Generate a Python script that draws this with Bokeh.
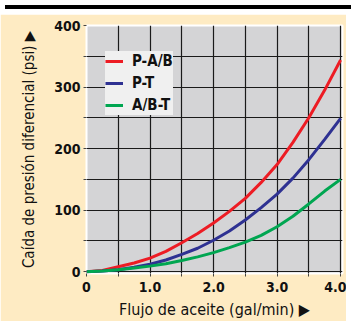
from bokeh.plotting import figure
from bokeh.models import FixedTicker, Range1d, Legend, LegendItem, Div
from bokeh.layouts import column
from bokeh.embed import file_html
from bokeh.resources import INLINE

flow = [0.0, 0.25, 0.5, 0.75, 1.0, 1.25, 1.5, 1.75, 2.0, 2.25, 2.5, 2.75, 3.0, 3.25, 3.5, 3.75, 4.0]
p_ab = [0, 2, 8, 14, 22, 33, 47, 62, 79, 98, 119, 145, 174, 210, 250, 295, 344]
p_t = [0, 1, 3, 7, 12, 19, 28, 38, 51, 66, 84, 104, 126, 152, 182, 215, 249]
ab_t = [0, 1, 3, 6, 9, 13, 18, 24, 31, 39, 48, 59, 73, 90, 110, 131, 150]
series_names = ["P-A/B", "P-T", "A/B-T"]
series_colors = ["#ED1C24", "#2E3192", "#00A651"]

x_major = [0, 1, 2, 3, 4]
x_minor = [0.5, 1.5, 2.5, 3.5]
y_major = [0, 100, 200, 300, 400]
y_minor = [50, 150, 250, 350]

FONT = "'Liberation Sans Narrow', 'DejaVu Sans Condensed', sans-serif"
BG = "#FEEBC3"

p = figure(width=346, height=307, output_backend="svg", toolbar_location=None,
           x_range=Range1d(0, 4.03), y_range=Range1d(-3, 400),
           min_border_left=86, min_border_right=4, min_border_top=11, min_border_bottom=41)
p.background_fill_color = "#D4D4D6"
p.border_fill_color = BG
p.outline_line_color = "white"
p.outline_line_width = 2

p.xaxis.ticker = FixedTicker(ticks=x_major, minor_ticks=x_minor)
p.yaxis.ticker = FixedTicker(ticks=y_major, minor_ticks=y_minor)
p.xaxis.major_label_overrides = {0: "0", 1: "1.0", 2: "2.0", 3: "3.0", 4: "4.0"}

for ax in (p.xaxis, p.yaxis):
    ax.axis_line_color = None
    ax.major_tick_in = 0
    ax.major_tick_out = 3
    ax.minor_tick_in = 0
    ax.minor_tick_out = 3
    ax.major_tick_line_color = "#444"
    ax.minor_tick_line_color = "#444"
    ax.major_label_text_font = FONT
    ax.major_label_text_font_style = "bold"
    ax.major_label_text_font_size = "14px"
    ax.major_label_text_color = "#111"
    ax.axis_label_text_font = FONT
    ax.axis_label_text_font_style = "normal"
    ax.axis_label_text_color = "#111"
p.xaxis.axis_label_text_font_size = "16px"
p.yaxis.axis_label_text_font_size = "15px"
p.xaxis.major_label_standoff = 5
p.yaxis.major_label_standoff = 3
p.xaxis.axis_label_standoff = 5
p.yaxis.axis_label_standoff = 13
p.xaxis.axis_label = "Flujo de aceite (gal/min) \u25B6"
p.yaxis.axis_label = "Ca\u00edda de presi\u00f3n diferencial (psi) \u25B6"

for g in (p.xgrid, p.ygrid):
    g.grid_line_color = "#1a1a1a"
    g.grid_line_width = 1.2
    g.minor_grid_line_color = "#1a1a1a"
    g.minor_grid_line_width = 1.2

items = []
for name, ys, col in zip(series_names, [p_ab, p_t, ab_t], series_colors):
    r = p.line(flow, ys, line_color=col, line_width=3)
    items.append(LegendItem(label=name, renderers=[r]))

legend = Legend(items=items, location=(19, 158))
legend.background_fill_color = "#F0F0F0"
legend.background_fill_alpha = 1
legend.border_line_color = None
legend.label_text_font = FONT
legend.label_text_font_style = "bold"
legend.label_text_font_size = "15px"
legend.label_text_color = "#111"
legend.glyph_width = 18
legend.glyph_height = 20
legend.spacing = 2
legend.padding = 6
legend.label_standoff = 9
legend.margin = 0
p.add_layout(legend)

bar = Div(width=346, height=4, styles={"background-color": "black"})
layout = column(bar, p, spacing=0)

open("out.html", "w").write(file_html(layout, INLINE))
